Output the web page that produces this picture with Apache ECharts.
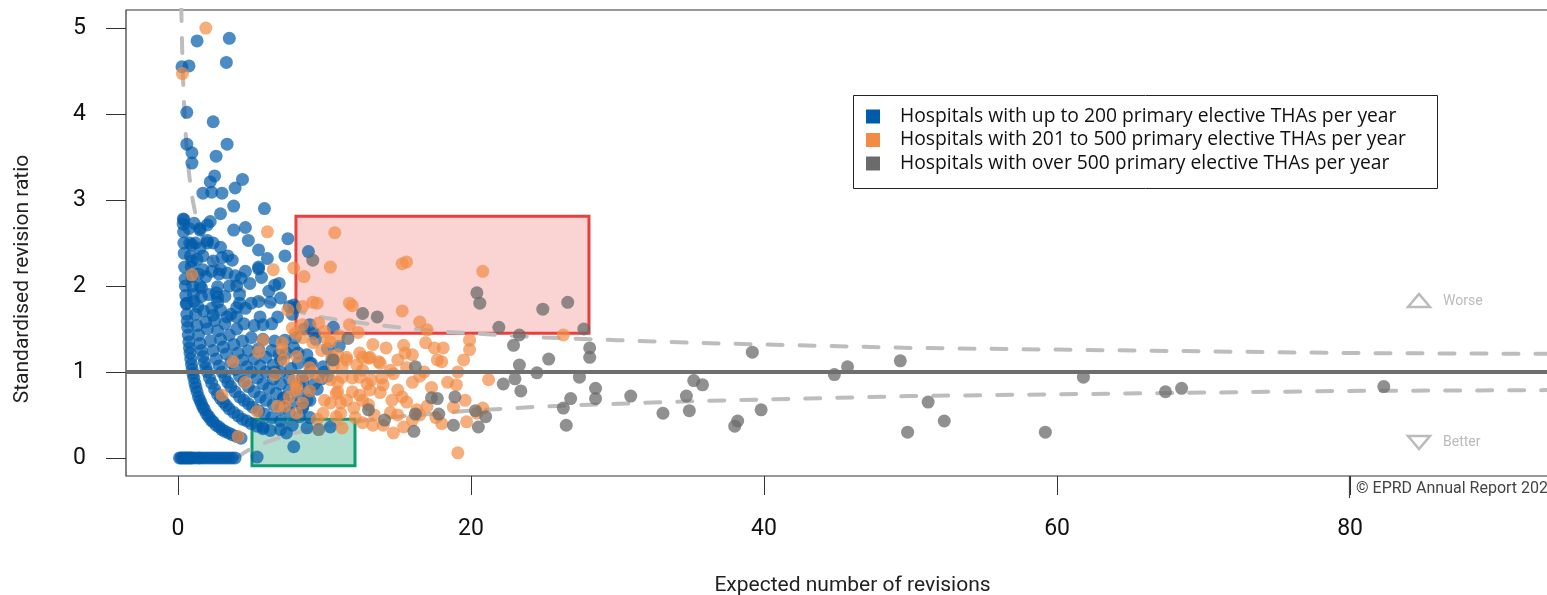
<!DOCTYPE html>
<html>
<head>
<meta charset="utf-8">
<script src="https://cdn.jsdelivr.net/npm/echarts@6/dist/echarts.min.js"></script>
<style>
html,body{margin:0;padding:0;background:#fff;overflow:hidden;}
#chart{width:1547px;height:595px;}
</style>
</head>
<body>
<div id="chart"></div>
<script>
// ---------------- data ----------------
const seriesNames = [
  "Hospitals with up to 200 primary elective THAs per year",
  "Hospitals with 201 to 500 primary elective THAs per year",
  "Hospitals with over 500 primary elective THAs per year"
];
const xTicks = [0, 20, 40, 60, 80];
const yTicks = [0, 1, 2, 3, 4, 5];

const blueData = [
  // zero observed revisions
  [0.1,0],[0.2,0],[0.3,0],[0.4,0],[0.5,0],[0.6,0],[0.7,0],[0.8,0],[0.9,0],[1.0,0],[1.2,0],[1.4,0],[1.5,0],[1.7,0],[1.9,0],[2.1,0],[2.3,0],[2.5,0],[2.7,0],[2.9,0],[3.1,0],[3.3,0],[3.5,0],[3.7,0],[3.9,0],
  // band 1
  [0.36,2.78],[0.38,2.63],[0.4,2.5],[0.42,2.38],[0.45,2.22],[0.48,2.08],[0.5,2.0],[0.53,1.89],[0.56,1.79],[0.6,1.67],[0.63,1.59],[0.66,1.52],[0.7,1.43],[0.74,1.35],[0.78,1.28],[0.82,1.22],[0.87,1.15],[0.92,1.09],[0.97,1.03],[1.02,0.98],[1.08,0.93],[1.15,0.87],[1.22,0.82],[1.3,0.77],[1.4,0.71],[1.5,0.67],[1.6,0.63],[1.7,0.59],[1.8,0.56],[1.95,0.51],[2.1,0.48],[2.25,0.44],[2.4,0.42],[2.6,0.38],[2.8,0.36],[3.0,0.33],[3.2,0.31],[3.45,0.29],[3.7,0.27],[4.0,0.25],[4.3,0.23],
  // band 2
  [0.75,2.67],[0.8,2.5],[0.85,2.35],[0.9,2.22],[0.95,2.11],[1.0,2.0],[1.05,1.9],[1.1,1.82],[1.2,1.67],[1.3,1.54],[1.4,1.43],[1.5,1.33],[1.6,1.25],[1.7,1.18],[1.8,1.11],[1.9,1.05],[2.0,1.0],[2.15,0.93],[2.3,0.87],[2.5,0.8],[2.7,0.74],[2.9,0.69],[3.1,0.65],[3.3,0.61],[3.5,0.57],[3.8,0.53],[4.1,0.49],[4.4,0.45],[4.7,0.43],[5.0,0.4],[5.4,0.37],[5.8,0.34],[6.3,0.32],
  // band 3
  [1.1,2.73],[1.2,2.5],[1.3,2.31],[1.4,2.14],[1.5,2.0],[1.6,1.88],[1.75,1.71],[1.9,1.58],[2.0,1.5],[2.2,1.36],[2.4,1.25],[2.6,1.15],[2.8,1.07],[3.0,1.0],[3.2,0.94],[3.4,0.88],[3.6,0.83],[3.9,0.77],[4.2,0.71],[4.5,0.67],[4.8,0.63],[5.1,0.59],[5.5,0.55],[5.9,0.51],[6.4,0.47],[7.0,0.43],[7.8,0.38],
  // band 4
  [1.5,2.67],[1.7,2.35],[1.9,2.11],[2.1,1.9],[2.3,1.74],[2.5,1.6],[2.7,1.48],[2.9,1.38],[3.1,1.29],[3.3,1.21],[3.6,1.11],[3.9,1.03],[4.2,0.95],[4.5,0.89],[4.8,0.83],[5.2,0.77],[5.6,0.71],[6.0,0.67],[6.5,0.62],[7.0,0.57],[7.6,0.53],[8.3,0.48],
  // band 5
  [2.0,2.5],[2.3,2.17],[2.6,1.92],[2.9,1.72],[3.2,1.56],[3.5,1.43],[3.8,1.32],[4.1,1.22],[4.4,1.14],[4.7,1.06],[5.0,1.0],[5.4,0.93],[5.8,0.86],[6.2,0.81],[6.7,0.75],[7.2,0.69],[7.8,0.64],[8.5,0.59],
  // band 6
  [2.4,2.5],[2.8,2.14],[3.2,1.88],[3.6,1.67],[4.0,1.5],[4.4,1.36],[4.8,1.25],[5.2,1.15],[5.6,1.07],[6.0,1.0],[6.5,0.92],[7.0,0.86],[7.6,0.79],[8.2,0.73],[9.0,0.67],
  // band 7
  [3.0,2.33],[3.5,2.0],[4.0,1.75],[4.5,1.56],[5.0,1.4],[5.5,1.27],[6.0,1.17],[6.5,1.08],[7.0,1.0],[7.6,0.92],[8.3,0.84],[9.0,0.78],
  // band 8
  [3.4,2.35],[4.0,2.0],[4.6,1.74],[5.2,1.54],[5.8,1.38],[6.4,1.25],[7.0,1.14],[7.7,1.04],[8.5,0.94],[9.3,0.86],
  // band 9-10
  [4.3,2.09],[5.0,1.8],[5.8,1.55],[6.6,1.36],[7.4,1.22],[8.2,1.1],[9.0,1.0],[9.8,0.92],
  [4.6,2.17],[5.5,1.82],[6.4,1.56],[7.3,1.37],[8.2,1.22],[9.1,1.1],[10.0,1.0],
  [5.5,2.2],[6.2,1.94],[7.0,1.86],[7.8,1.67],[8.6,1.5],[6.9,2.03],[9.4,1.38],[10.2,1.27],[8.0,1.75],[9.0,1.55],[10.5,1.14],[11.0,1.3],
  // scattered upper points
  [1.3,4.85],[3.5,4.88],[3.3,4.6],[0.27,4.55],[0.75,4.56],[0.6,4.02],[2.4,3.91],[0.6,3.65],[3.35,3.65],[0.95,3.55],[0.95,3.43],[2.6,3.51],[2.5,3.28],[2.2,3.21],[4.4,3.24],[3.9,3.14],[1.7,3.08],[2.3,3.09],[3.0,3.08],[3.8,2.93],[2.9,2.84],[5.9,2.9],[0.4,2.77],[0.35,2.72],[2.0,2.71],[2.2,2.75],[1.5,2.65],[4.6,2.68],[3.8,2.65],[4.8,2.53],[7.5,2.55],[2.0,2.53],[0.95,2.48],[1.5,2.44],[2.9,2.45],[5.5,2.42],[3.7,2.3],[0.95,2.29],[2.4,2.29],[6.1,2.32],[7.3,2.35],[1.7,2.19],[2.9,2.19],[3.35,2.15],[5.5,2.22],[5.7,2.1],[3.9,2.12],[1.6,1.98],[2.7,1.99],[4.9,2.03],[6.6,2.01],[0.6,1.8],[1.35,1.76],[2.7,1.87],[2.7,1.81],[4.2,1.9],[4.2,1.8],[6.3,1.81],[2.4,1.66],[3.35,1.64],[4.0,1.64],[5.6,1.64],[6.8,1.64],[7.6,1.76],[8.9,2.4],[7.9,1.78],[10.6,1.52],
  // lower right part of the cluster
  [5.8,0.36],[7.4,0.29],[7.9,0.13],[8.8,0.35],[10.4,0.36],[5.4,0.01],[7.0,0.33],[7.9,1.28],[8.8,1.2],[9.0,1.1],[8.5,0.89],[9.9,1.06],[7.2,0.7],[8.5,0.58],[8.8,0.67],[9.0,0.47],[6.9,1.2],[6.6,1.0],[9.5,0.8],[10.2,0.95],[8.0,1.4],[9.3,1.45]
];

const orangeData = [
  [6.1,2.63],[10.7,2.62],[15.3,2.26],[15.6,2.28],[20.8,2.17],[10.4,2.22],[8.6,2.11],[6.5,2.19],[7.9,2.21],[9.5,1.8],[11.7,1.8],[11.9,1.77],[15.3,1.71],[16.5,1.58],[17.0,1.49],[8.5,1.55],[9.6,1.57],[11.7,1.55],[7.5,1.72],[8.5,1.76],[7.8,1.51],[9.2,1.81],[26.3,1.43],[1.9,5.0],[0.3,4.47],[0.95,2.13],[8.0,1.45],[10.0,1.47],[12.3,1.46],
  [9.2,1.34],[10.4,1.35],[15.4,1.31],[15.5,1.22],[16.9,1.34],[17.5,1.28],[18.1,1.28],[19.9,1.37],[19.9,1.26],[10.9,1.2],[11.5,1.17],[12.4,1.22],[13.0,1.16],[13.7,1.12],[15.0,1.14],[17.7,1.14],[18.0,1.12],[19.5,1.14],[10.6,1.08],[11.2,1.06],[12.2,1.08],[12.6,1.02],[15.6,1.05],[19.1,1.0],[7.1,1.26],[7.2,1.14],[3.75,1.12],[10.2,1.37],[10.5,1.18],[11.5,1.14],[12.6,1.17],[13.1,1.17],[13.8,1.1],[5.5,1.23],[7.1,1.34],[5.8,1.37],[8.5,1.4],[9.8,1.25],[14.2,1.28],[16.0,1.2],[13.3,1.32],[11.0,1.42],[14.5,1.02],[16.8,1.0],[9.0,1.05],[8.1,1.18],
  [9.7,0.94],[10.4,0.91],[10.9,0.88],[11.9,0.93],[12.4,0.94],[13.2,0.91],[13.9,0.93],[14.0,0.85],[16.0,0.88],[18.4,0.88],[21.2,0.91],[10.9,0.77],[11.9,0.77],[12.4,0.73],[13.1,0.79],[13.8,0.76],[15.0,0.79],[15.3,0.71],[4.6,0.88],[8.1,0.83],[9.2,0.99],[7.6,0.71],[11.2,0.94],[10.8,0.75],[6.6,0.97],[7.9,0.9],[8.1,0.79],[3.0,0.73],[16.5,0.95],[17.3,0.82],[19.0,0.85],[14.7,0.98],[9.0,0.78],[8.6,0.95],[12.9,0.86],
  [11.1,0.64],[11.5,0.67],[12.6,0.67],[13.0,0.62],[14.6,0.67],[15.6,0.65],[10.0,0.67],[10.4,0.64],[13.4,0.5],[14.5,0.53],[15.0,0.5],[16.3,0.56],[16.5,0.5],[12.1,0.47],[12.6,0.41],[13.3,0.38],[14.7,0.29],[11.1,0.52],[19.6,0.67],[18.8,0.59],[19.7,0.42],[20.8,0.58],[19.1,0.06],[17.0,0.6],[6.8,0.6],[8.1,0.52],[9.9,0.52],[10.8,0.48],[7.3,0.6],[8.5,0.64],[5.4,0.54],[4.1,0.25],[16.0,0.44],[17.6,0.47],[18.0,0.4],[14.0,0.38],[12.0,0.58],[9.5,0.45],[20.4,0.52],[15.4,0.36],[11.2,0.35]
];

const grayData = [
  [20.4,1.92],[20.6,1.8],[24.9,1.73],[26.6,1.81],[21.9,1.52],[23.3,1.43],[27.7,1.5],[22.9,1.31],[28.1,1.28],[28.1,1.17],[25.3,1.15],[23.3,1.08],[24.5,0.99],[27.4,0.94],[16.2,1.06],[22.2,0.86],[23.0,0.92],[23.4,0.78],[28.5,0.81],[28.5,0.69],[26.8,0.69],[26.3,0.58],[26.5,0.38],[30.9,0.72],[33.1,0.52],[34.7,0.72],[34.9,0.55],[35.2,0.9],[35.8,0.85],[38.0,0.37],[38.2,0.43],[39.8,0.56],[39.2,1.23],[17.3,0.7],[17.7,0.69],[18.9,0.71],[16.2,0.51],[17.8,0.51],[16.1,0.31],[18.8,0.38],[20.3,0.55],[21.0,0.48],[20.5,0.36],[12.6,1.68],[13.6,1.64],[10.6,1.14],[11.6,1.39],[13.0,0.56],[14.1,0.44],[9.6,0.33],[9.2,2.3],
  [44.8,0.97],[45.7,1.06],[49.3,1.13],[49.8,0.3],[51.2,0.65],[52.3,0.43],[59.2,0.3],[61.8,0.94],[67.4,0.77],[68.5,0.81],[82.3,0.83]
];

const upperLimit = [[0.16,6.0],[0.2,5.47],[0.25,5.0],[0.3,4.65],[0.35,4.38],[0.4,4.16],[0.5,3.83],[0.6,3.58],[0.7,3.39],[0.8,3.24],[1.0,3.0],[1.2,2.83],[1.5,2.63],[2,2.41],[2.5,2.26],[3,2.15],[4,2.0],[5,1.89],[6,1.82],[7,1.76],[8,1.71],[10,1.63],[12,1.58],[15,1.52],[18,1.47],[20,1.45],[25,1.40],[30,1.37],[35,1.34],[40,1.32],[50,1.28],[60,1.26],[70,1.24],[80,1.22],[95,1.21]];
const lowerLimit = [[4,0],[4.5,0.06],[5,0.11],[6,0.18],[7,0.24],[8,0.29],[10,0.37],[12,0.42],[15,0.48],[20,0.55],[25,0.6],[30,0.63],[35,0.66],[40,0.68],[50,0.72],[60,0.74],[70,0.76],[80,0.78],[95,0.79]];
const referenceRatio = 1;
// boxes: [xMin, xMax, yMin, yMax]
const redBox = [8.05, 28.05, 1.45, 2.81];
const greenBox = [5.05, 12.08, -0.09, 0.45];

// ---------------- chart ----------------
const FONT = "Roboto, 'DejaVu Sans', sans-serif";
const LFONT = "'Open Sans', Roboto, sans-serif";
const chart = echarts.init(document.getElementById('chart'), null, {renderer: 'canvas', width: 1547, height: 595});

const option = {
  animation: false,
  backgroundColor: '#ffffff',
  textStyle: {fontFamily: FONT},
  grid: {left: 126, top: 10, right: -6, bottom: 119, show: true, borderColor: '#333', borderWidth: 1.2,
         containLabel: false, outerBoundsMode: 'none'},
  xAxis: {
    type: 'value', min: -3.55, max: 93.85,
    name: 'Expected number of revisions', nameLocation: 'middle', nameGap: 99,
    nameTextStyle: {fontSize: 21, color: '#222', fontFamily: FONT, padding: [0, 0, 0, 26]},
    axisLine: {show: false, onZero: false},
    axisTick: {show: true, length: 19, inside: false, customValues: xTicks, lineStyle: {color: '#333', width: 1}},
    axisLabel: {customValues: xTicks, fontSize: 23, color: '#111', margin: 42, fontFamily: FONT},
    splitLine: {show: false}
  },
  yAxis: {
    type: 'value', min: -0.21, max: 5.21,
    name: 'Standardised revision ratio', nameLocation: 'middle', nameGap: 93, nameRotate: 90,
    nameTextStyle: {fontSize: 21, color: '#222', fontFamily: FONT, padding: [0, 72, 0, 0]},
    axisLine: {show: false, onZero: false},
    axisTick: {show: true, length: 20, inside: false, customValues: yTicks, lineStyle: {color: '#333', width: 1}},
    axisLabel: {customValues: yTicks, fontSize: 23, color: '#111', margin: 40, fontFamily: FONT},
    splitLine: {show: false}
  },
  legend: {
    data: seriesNames,
    orient: 'vertical', left: 866, top: 107, padding: 0,
    itemWidth: 14, itemHeight: 14, itemGap: 4.5,
    icon: 'rect',
    itemStyle: {opacity: 1},
    textStyle: {fontSize: 19.3, lineHeight: 14, color: '#111', fontFamily: LFONT, padding: [0, 0, 0, 15]},
    selectedMode: false
  },
  series: [
    {
      type: 'line', name: 'upper', data: upperLimit, showSymbol: false, z: 1, silent: true,
      lineStyle: {color: '#BDBDBD', width: 4, type: [15, 17], cap: 'round'},
      markLine: {
        silent: true, symbol: 'none', label: {show: false},
        lineStyle: {color: '#6E6E6E', width: 4, type: 'solid'},
        data: [{yAxis: referenceRatio}]
      }
    },
    {
      type: 'line', name: 'lower', data: lowerLimit, showSymbol: false, z: 1, silent: true,
      lineStyle: {color: '#BDBDBD', width: 4, type: [15, 17], cap: 'round'}
    },
    {
      type: 'scatter', name: seriesNames[0], data: blueData, symbolSize: 13, z: 2,
      itemStyle: {color: '#005BAA', opacity: 0.7}
    },
    {
      type: 'scatter', name: seriesNames[1], data: orangeData, symbolSize: 13, z: 3,
      itemStyle: {color: '#F28B45', opacity: 0.7}
    },
    {
      type: 'scatter', name: seriesNames[2], data: grayData, symbolSize: 13, z: 4,
      itemStyle: {color: '#6B6B6B', opacity: 0.75}
    },
    {
      type: 'scatter', name: 'boxes', data: [], z: 6, silent: true,
      markArea: {
        silent: true,
        data: [
          [{xAxis: redBox[0], yAxis: redBox[2], itemStyle: {color: 'rgba(232,64,64,0.23)', borderColor: '#E8403F', borderWidth: 3}},
           {xAxis: redBox[1], yAxis: redBox[3]}],
          [{xAxis: greenBox[0], yAxis: greenBox[2], itemStyle: {color: 'rgba(14,154,110,0.33)', borderColor: '#0E9A6E', borderWidth: 3}},
           {xAxis: greenBox[1], yAxis: greenBox[3]}]
        ]
      }
    }
  ],
  graphic: [
    {type: 'rect', shape: {x: 853.5, y: 95.5, width: 584, height: 93}, style: {fill: 'none', stroke: '#222', lineWidth: 1}, z: 10},
    {type: 'polygon', shape: {points: [[1408, 307], [1430, 307], [1419, 294]]}, style: {fill: 'none', stroke: '#BBBBBB', lineWidth: 2.5}, z: 10},
    {type: 'text', x: 1443, y: 301, style: {text: 'Worse', fill: '#BBBBBB', font: "14px " + FONT, textVerticalAlign: 'middle'}, z: 10},
    {type: 'polygon', shape: {points: [[1408, 436], [1430, 436], [1419, 449]]}, style: {fill: 'none', stroke: '#BBBBBB', lineWidth: 2.5}, z: 10},
    {type: 'text', x: 1443, y: 442, style: {text: 'Better', fill: '#BBBBBB', font: "14px " + FONT, textVerticalAlign: 'middle'}, z: 10},
    {type: 'line', shape: {x1: 1349.5, y1: 476, x2: 1349.5, y2: 498}, style: {stroke: '#444', lineWidth: 1.2}, z: 10},
    {type: 'text', x: 1356, y: 489, style: {text: '© EPRD Annual Report 2023', fill: '#444', font: "16px " + FONT, textVerticalAlign: 'middle'}, z: 10}
  ]
};
chart.setOption(option);
</script>
</body>
</html>
